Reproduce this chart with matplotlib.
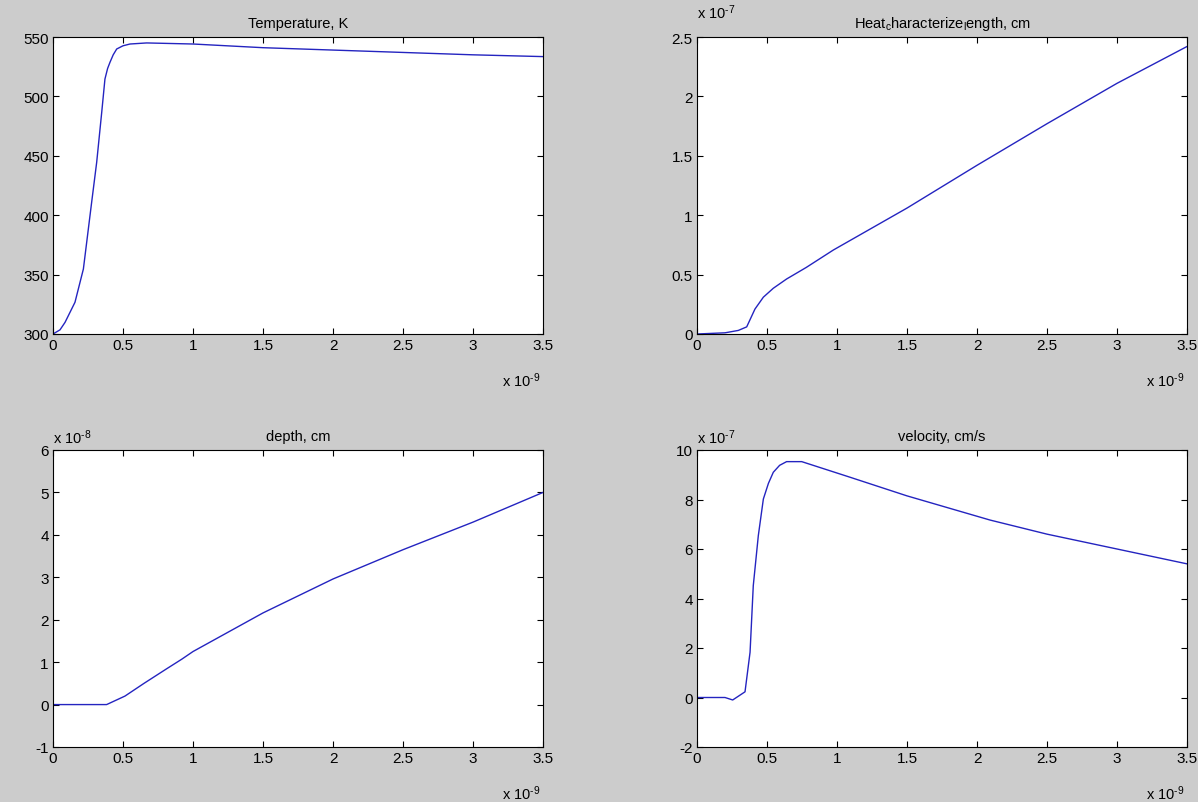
import matplotlib
matplotlib.use("Agg")
import matplotlib.pyplot as plt
from matplotlib.ticker import FormatStrFormatter

plt.rcParams['font.family'] = ['Liberation Sans', 'DejaVu Sans']
plt.rcParams['mathtext.fontset'] = 'custom'
plt.rcParams['mathtext.rm'] = 'Liberation Sans'
plt.rcParams['mathtext.it'] = 'Liberation Sans'

# time axis in units of 1e-9 s
temp_t = [0, 0.05, 0.086, 0.157, 0.217, 0.276, 0.312, 0.348, 0.371, 0.39, 0.407,
          0.43, 0.455, 0.5, 0.55, 0.669, 1.0, 1.5, 2.0, 2.5, 3.0, 3.5]
temp_K = [300, 303.5, 309.8, 326.7, 354.7, 410.8, 444.5, 486.6, 514.6, 523.5, 528.7,
          535.0, 539.9, 542.6, 544.1, 545.0, 544.1, 541.0, 539.0, 537.0, 535.0, 533.5]

# heat characterize length, units of 1e-7 cm
heat_t = [0, 0.2, 0.295, 0.355, 0.414, 0.474, 0.545, 0.64, 0.78, 0.974,
          1.5, 2.0, 2.5, 3.0, 3.5]
heat_len = [0, 0.01, 0.03, 0.06, 0.21, 0.31, 0.385, 0.463, 0.56, 0.707,
            1.06, 1.42, 1.77, 2.11, 2.42]

# depth, units of 1e-8 cm
depth_t = [0, 0.383, 0.514, 0.65, 0.81, 0.92, 1.0, 1.5, 2.0, 2.5, 3.0, 3.5]
depth = [0, 0, 0.2, 0.5, 0.84, 1.07, 1.25, 2.16, 2.96, 3.65, 4.3, 5.0]

# velocity, units of 1e-7 cm/s
vel_t = [0, 0.2, 0.255, 0.343, 0.379, 0.402, 0.438, 0.474, 0.51, 0.545, 0.59, 0.64,
         0.748, 1.093, 1.498, 2.093, 2.5, 3.0, 3.5]
vel = [0, 0, -0.1, 0.23, 1.83, 4.52, 6.54, 8.02, 8.65, 9.1, 9.38, 9.53,
       9.53, 8.9, 8.15, 7.17, 6.6, 6.0, 5.4]

x_ticks = [0, 0.5, 1, 1.5, 2, 2.5, 3, 3.5]

panels = [
    (temp_t, temp_K, "Temperature, K", (300, 550), 50, None),
    (heat_t, heat_len, r"Heat$_{\rm c}$haracterize$_{\rm l}$ength, cm", (0, 2.5), 0.5, -7),
    (depth_t, depth, "depth, cm", (-1, 6), 1, -8),
    (vel_t, vel, "velocity, cm/s", (-2, 10), 2, -7),
]

W, H = 1198, 803
bg = "#cccccc"
fig = plt.figure(figsize=(W / 100, H / 100), dpi=100, facecolor=bg)

# axes boxes in pixels: left, top, right, bottom
boxes = [(53, 38, 543, 335), (697, 38, 1187, 335),
         (53, 451, 543, 748), (697, 451, 1187, 748)]

for (x, y, title, ylim, ystep, yexp), (l, t, r, b) in zip(panels, boxes):
    ax = fig.add_axes([l / W, 1 - b / H, (r - l) / W, (b - t) / H])
    ax.plot(x, y, color="#2424c0", lw=1.0)
    ax.set_xlim(0, 3.5)
    ax.set_ylim(*ylim)
    ax.set_xticks(x_ticks)
    n = int(round((ylim[1] - ylim[0]) / ystep))
    ax.set_yticks([ylim[0] + i * ystep for i in range(n + 1)])
    ax.xaxis.set_major_formatter(FormatStrFormatter('%g'))
    ax.yaxis.set_major_formatter(FormatStrFormatter('%g'))
    ax.tick_params(direction='in', length=4, width=0.8, top=True, right=True,
                   labelsize=11, pad=3, colors='black')
    for s in ax.spines.values():
        s.set_linewidth(0.8)
    ax.set_title(title, fontsize=10.5, pad=7)
    ax.text(0.995, -0.155, r"x 10$^{\text{-9}}$", transform=ax.transAxes,
            ha='right', va='center', fontsize=10.5)
    if yexp is not None:
        yy = 1.085 if t < 100 else 1.045
        ax.text(0.0, yy, r"x 10$^{\text{-%d}}$" % -yexp, transform=ax.transAxes,
                ha='left', va='center', fontsize=10.5)

fig.savefig("out.png", dpi=100, facecolor=bg)
